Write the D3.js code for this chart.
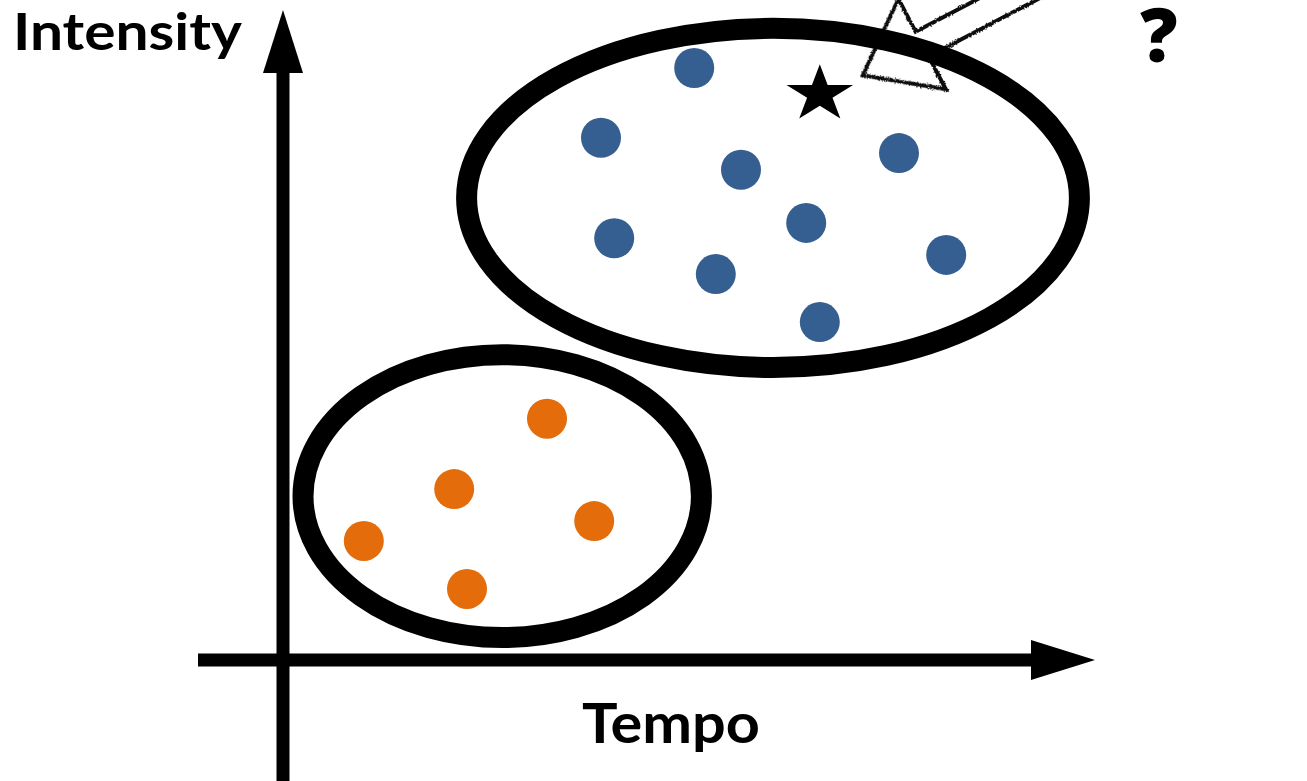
<!DOCTYPE html>
<html>
<head>
<meta charset="utf-8">
<script src="https://cdn.jsdelivr.net/npm/d3@7"></script>
<style>
    html, body { margin: 0; padding: 0; background: #fff; }
    svg { display: block; }
    .axis-label { font-family: Lato, "Open Sans", sans-serif; font-weight: 700; fill: #000; }
    .question { font-family: "Open Sans", Lato, sans-serif; font-weight: 800; fill: #000; }
</style>
</head>
<body>
<div class="chart"></div>
<script>
// cluster points, in tempo / intensity units (0-100)
const blueTempo = [51.4, 39.75, 57.25, 77, 41.4, 65.4, 82.9, 54.1, 67.1];
const blueIntensity = [92.5, 81.6, 76.6, 79.2, 65.9, 68.3, 63.3, 60.3, 52.8];
const orangeTempo = [33, 21.4, 38.9, 10.1, 23];
const orangeIntensity = [37.7, 26.7, 21.7, 18.6, 11.1];

// the new, unclassified song
const starTempo = [67.1];
const starIntensity = [88.4];

// cluster outlines: centre and radii
const clusterNames = ['blue', 'orange'];
const clusterCx = [61.25, 27.4];
const clusterCy = [72.2, 25.6];
const clusterRx = [38.3, 24.9];
const clusterRy = [26.5, 22.1];

const xLabel = 'Tempo';
const yLabel = 'Intensity';
const question = '?';

const width = 1307;
const height = 781;
const colors = { blue: '#365f91', orange: '#e46c0a' };

const x = d3.scaleLinear().domain([0, 100]).range([283, 1083]);
const y = d3.scaleLinear().domain([0, 100]).range([660, 20]);

const svg = d3.select('.chart')
    .append('svg')
    .attr('width', width)
    .attr('height', height);

// rough pencil look for the pointer arrow
const defs = svg.append('defs');
const rough = defs.append('filter').attr('id', 'rough')
    .attr('x', '-10%').attr('y', '-10%').attr('width', '120%').attr('height', '120%');
rough.append('feTurbulence').attr('type', 'fractalNoise').attr('baseFrequency', 0.9)
    .attr('numOctaves', 2).attr('result', 'noise');
rough.append('feDisplacementMap').attr('in', 'SourceGraphic').attr('in2', 'noise')
    .attr('scale', 3.5).attr('xChannelSelector', 'R').attr('yChannelSelector', 'G');

// hollow arrow pointing at the star (drawn under the ellipse)
const tipX = x(starTempo[0]) + 43;
const tipY = y(starIntensity[0]) - 19;
const arrowShape = [[0, 0], [67, -51], [67, -14], [420, -14], [420, 14], [67, 14], [67, 51]];
svg.append('path')
    .attr('d', d3.line()(arrowShape) + 'Z')
    .attr('transform', `translate(${tipX},${tipY}) rotate(-27.7)`)
    .attr('fill', 'none')
    .attr('stroke', '#111')
    .attr('stroke-width', 4)
    .attr('stroke-linejoin', 'miter')
    .attr('filter', 'url(#rough)');

// axes with arrow heads
const axisG = svg.append('g').attr('class', 'axes');
axisG.append('line')
    .attr('x1', x(0)).attr('x2', x(0))
    .attr('y1', height).attr('y2', 73)
    .attr('stroke', '#000').attr('stroke-width', 13);
axisG.append('path')
    .attr('d', d3.line()([[x(0) - 20, 73], [x(0), 10], [x(0) + 20, 73]]) + 'Z')
    .attr('fill', '#000');
axisG.append('line')
    .attr('x1', 198).attr('x2', 1033)
    .attr('y1', y(0)).attr('y2', y(0))
    .attr('stroke', '#000').attr('stroke-width', 13);
axisG.append('path')
    .attr('d', d3.line()([[1031, y(0) - 20], [1095, y(0)], [1031, y(0) + 20]]) + 'Z')
    .attr('fill', '#000');

// cluster outlines
const clusters = clusterNames.map((name, i) => ({
    name, cx: clusterCx[i], cy: clusterCy[i], rx: clusterRx[i], ry: clusterRy[i]
}));
svg.append('g')
    .selectAll('ellipse')
    .data(clusters)
    .enter()
    .append('ellipse')
    .attr('class', (d) => `cluster cluster-${d.name}`)
    .attr('cx', (d) => x(d.cx))
    .attr('cy', (d) => y(d.cy))
    .attr('rx', (d) => x(d.rx) - x(0))
    .attr('ry', (d) => y(0) - y(d.ry))
    .attr('fill', 'none')
    .attr('stroke', '#000')
    .attr('stroke-width', 21);

// dots
const points = blueTempo.map((t, i) => ({ group: 'blue', tempo: t, intensity: blueIntensity[i] }))
    .concat(orangeTempo.map((t, i) => ({ group: 'orange', tempo: t, intensity: orangeIntensity[i] })));
svg.append('g')
    .selectAll('.dot')
    .data(points)
    .enter()
    .append('circle')
    .attr('class', (d) => `dot dot-${d.group}`)
    .attr('cx', (d) => x(d.tempo))
    .attr('cy', (d) => y(d.intensity))
    .attr('r', 20)
    .attr('fill', (d) => colors[d.group]);

// star (slightly wide, as in the original)
const starPoints = d3.range(10).map((i) => {
    const a = -Math.PI / 2 + i * Math.PI / 5;
    const r = i % 2 === 0 ? 1 : 0.382;
    return [Math.cos(a) * r * 35, Math.sin(a) * r * 30];
});
svg.append('g')
    .selectAll('.star')
    .data(starTempo.map((t, i) => ({ tempo: t, intensity: starIntensity[i] })))
    .enter()
    .append('path')
    .attr('class', 'star')
    .attr('d', d3.line()(starPoints) + 'Z')
    .attr('transform', (d) => `translate(${x(d.tempo)},${y(d.intensity)})`)
    .attr('fill', '#000');

// labels
svg.append('text')
    .attr('class', 'axis-label')
    .attr('x', 13).attr('y', 50)
    .attr('font-size', 52)
    .attr('textLength', 229)
    .attr('lengthAdjust', 'spacingAndGlyphs')
    .text(yLabel);

svg.append('text')
    .attr('class', 'axis-label')
    .attr('x', 582).attr('y', 743)
    .attr('font-size', 56)
    .attr('textLength', 178)
    .attr('lengthAdjust', 'spacingAndGlyphs')
    .text(xLabel);

svg.append('text')
    .attr('class', 'question')
    .attr('x', 1159).attr('y', 62)
    .attr('text-anchor', 'middle')
    .attr('font-size', 74)
    .text(question);
</script>
</body>
</html>
